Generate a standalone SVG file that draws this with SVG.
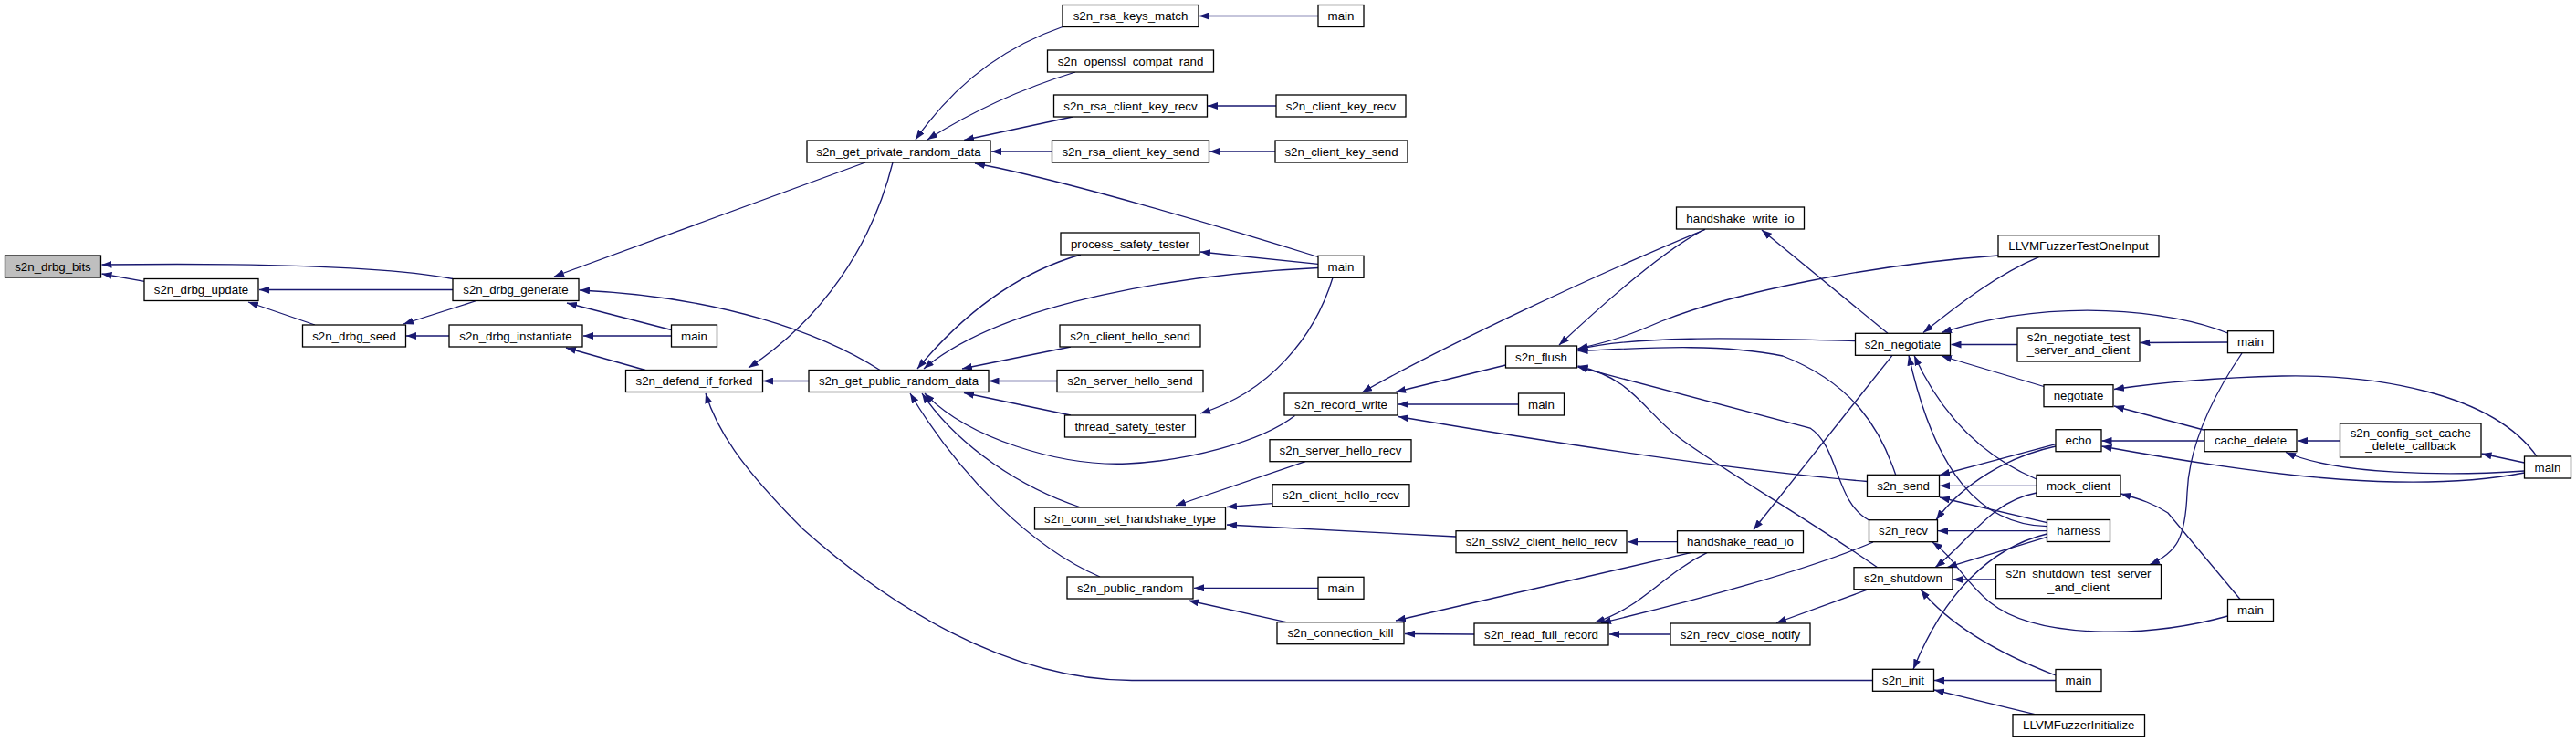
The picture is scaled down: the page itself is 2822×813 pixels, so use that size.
<svg xmlns="http://www.w3.org/2000/svg" width="2822" height="813" viewBox="0 0 2822 813">
<defs>
<marker id="ah" markerWidth="11" markerHeight="8" refX="11" refY="4" orient="auto" markerUnits="userSpaceOnUse"><path d="M0,0 L11,4 L0,8 z" fill="#191970"/></marker>
<style>
.node rect{fill:#ffffff;stroke:#000000;stroke-width:1.3}
.node.hl rect{fill:#bfbfbf}
.node text{font-family:"Liberation Sans",Arial,Helvetica,sans-serif;font-size:13.3px;fill:#000000;text-anchor:middle}
#edges path{fill:none;stroke:#191970;stroke-width:1.3;marker-end:url(#ah)}
</style>
</defs>
<rect x="0" y="0" width="2822" height="813" fill="#ffffff"/>
<g id="edges">
<path d="M158.4,308.3 L111.5,300"/>
<path d="M496,305.5 C420,291 280,288 111.5,290"/>
<path d="M496,317.5 L284,317.5"/>
<path d="M345,356 L272,331"/>
<path d="M522,329.5 L442,355"/>
<path d="M492,368 L445,368"/>
<path d="M707,405.5 L620,381"/>
<path d="M735.5,368 L639,368"/>
<path d="M735.5,361.5 L621,332"/>
<path d="M948,178 L607,303"/>
<path d="M964,405.5 C900,365 790,325 635,318"/>
<path d="M978,178 C955,270 900,350 820,403"/>
<path d="M886,417.5 L836,417.5"/>
<path d="M1164,29.5 C1090,55 1040,100 1003,153"/>
<path d="M1178,79 C1110,100 1060,125 1016,153"/>
<path d="M1175,128 L1056,153.5"/>
<path d="M1152.5,166 L1086,166"/>
<path d="M1444,281.5 C1330,246 1160,196 1068,179"/>
<path d="M1444,17.5 L1313.5,17.5"/>
<path d="M1398,116 L1323,116"/>
<path d="M1397,166 L1325,166"/>
<path d="M1184,279 C1110,300 1050,350 1005,404"/>
<path d="M1444,289.3 L1315,276"/>
<path d="M1444,293.5 C1300,300 1100,330 1012,404"/>
<path d="M1173,380 L1054,404"/>
<path d="M1158,417.5 L1083.5,417.5"/>
<path d="M1173,455 L1056,430.5"/>
<path d="M1460,304.3 C1440,370 1390,430 1315,453"/>
<path d="M1418.5,455.5 C1380,485 1300,505 1235,508 C1160,511 1060,480 1013,431"/>
<path d="M1184,556 C1120,535 1050,490 1010,431"/>
<path d="M1205,632 C1130,600 1050,520 997,431"/>
<path d="M2051.5,745.5 L1240,745.5 C1100,745 970,660 880,580 C810,510 785,470 773,431"/>
<path d="M1430,505.7 L1288,554"/>
<path d="M1394,551.7 L1344,555.5"/>
<path d="M1595,588 L1344,575"/>
<path d="M1444,644.3 L1308,644.3"/>
<path d="M1409,681.7 L1302,658"/>
<path d="M1615,695 L1539,694.5"/>
<path d="M1852,605.7 L1529,680"/>
<path d="M1870,605.7 C1820,630 1800,665 1747,682"/>
<path d="M2052,594 C1980,625 1850,660 1754,682.5"/>
<path d="M1830,695 L1763,695"/>
<path d="M2047,645.7 L1946,682.5"/>
<path d="M1837.5,593.7 L1783,593.7"/>
<path d="M2073,389.3 L1921,580.5"/>
<path d="M2068,365.3 L1930,252"/>
<path d="M1868,251 C1830,270 1770,320 1708,378"/>
<path d="M1868,251.5 C1750,300 1580,380 1492,430"/>
<path d="M1649.5,400 L1529,429.5"/>
<path d="M1663.5,443 L1532,443"/>
<path d="M2045.5,527.5 C1900,515 1700,485 1532,456.5"/>
<path d="M2032.5,373.5 C1950,372 1800,365 1728.5,383"/>
<path d="M2189,280 C2050,290 1900,320 1820,352 C1790,365 1770,373 1728.5,382"/>
<path d="M2233.5,281.7 C2190,300 2150,330 2107,364.5"/>
<path d="M2440.5,365 C2380,340 2250,325 2127,364.5"/>
<path d="M2210,377.5 L2137.5,377.5"/>
<path d="M2440.5,375 L2344.5,375.5"/>
<path d="M2239,423.5 L2127,390"/>
<path d="M2779,500 C2730,430 2600,410 2500,412 C2420,414 2360,420 2316,426.5"/>
<path d="M2414,471 L2316,445"/>
<path d="M2415,483 L2302.5,483"/>
<path d="M2563.5,483 L2517,483"/>
<path d="M2765.5,507 L2718.5,497"/>
<path d="M2765.5,516 C2680,522 2560,520 2504,495.5"/>
<path d="M2765.5,518 C2650,540 2500,525 2302.5,489"/>
<path d="M2252,486.7 L2125,520.5"/>
<path d="M2252,489 C2200,500 2150,530 2121,569.7"/>
<path d="M2231,532.3 L2125,532.3"/>
<path d="M2231,525 C2160,495 2120,440 2097,389.5"/>
<path d="M2242.5,576.7 C2170,575 2120,520 2091,389.5"/>
<path d="M2242.5,572.7 L2125,545"/>
<path d="M2242.5,581.7 L2123,581.7"/>
<path d="M2242.5,588.3 L2133,621.7"/>
<path d="M2231,540 C2180,550 2160,590 2120,621.7"/>
<path d="M2186.5,635 L2139.5,635"/>
<path d="M2440.5,675 C2350,700 2230,700 2180,660 C2150,635 2140,610 2117,594"/>
<path d="M2454,656.5 L2375,562 C2360,552 2345,547 2323.5,541"/>
<path d="M2456,387 C2420,440 2398,490 2396,540 C2394,590 2385,605 2355,618.7"/>
<path d="M2252,740 C2200,720 2140,690 2104,646"/>
<path d="M2252,745.5 L2119,745.5"/>
<path d="M2229,782.7 L2119,756"/>
<path d="M2242.5,585 C2180,600 2130,650 2096,733.3"/>
<path d="M2056.7,621.7 C1990,575 1880,510 1840,480 C1800,450 1790,415 1728.5,401"/>
<path d="M2076.7,520.3 C2060,470 2030,420 1953,390 C1880,375 1790,382 1728.5,384.5"/>
<path d="M2047.5,570 C2010,550 2015,490 1983,469 L1728.5,402"/>
</g>
<g id="n_bits" class="node hl"><rect x="5.5" y="280" width="105" height="24"/><text x="58" y="296.7">s2n_drbg_bits</text></g>
<g id="n_update" class="node"><rect x="158" y="305.5" width="125" height="24"/><text x="220.5" y="322.2">s2n_drbg_update</text></g>
<g id="n_generate" class="node"><rect x="496" y="305.5" width="138" height="24"/><text x="565" y="322.2">s2n_drbg_generate</text></g>
<g id="n_seed" class="node"><rect x="331.5" y="356" width="113" height="24"/><text x="388" y="372.7">s2n_drbg_seed</text></g>
<g id="n_inst" class="node"><rect x="492" y="356" width="146" height="24"/><text x="565" y="372.7">s2n_drbg_instantiate</text></g>
<g id="n_defend" class="node"><rect x="685.5" y="405.5" width="150" height="24"/><text x="760.5" y="422.2">s2n_defend_if_forked</text></g>
<g id="n_main1" class="node"><rect x="735.5" y="356" width="50" height="24"/><text x="760.5" y="372.7">main</text></g>
<g id="n_priv" class="node"><rect x="884" y="154" width="201" height="24"/><text x="984.5" y="170.7">s2n_get_private_random_data</text></g>
<g id="n_pub" class="node"><rect x="886" y="405.5" width="197" height="24"/><text x="984.5" y="422.2">s2n_get_public_random_data</text></g>
<g id="n_rsakm" class="node"><rect x="1164" y="5.5" width="149" height="24"/><text x="1238.5" y="22.2">s2n_rsa_keys_match</text></g>
<g id="n_compat" class="node"><rect x="1147.5" y="55" width="182" height="24"/><text x="1238.5" y="71.7">s2n_openssl_compat_rand</text></g>
<g id="n_rckr" class="node"><rect x="1154.5" y="104" width="168" height="24"/><text x="1238.5" y="120.7">s2n_rsa_client_key_recv</text></g>
<g id="n_rcks" class="node"><rect x="1152.5" y="154" width="172" height="24"/><text x="1238.5" y="170.7">s2n_rsa_client_key_send</text></g>
<g id="n_pst" class="node"><rect x="1162" y="255" width="152" height="24"/><text x="1238" y="271.7">process_safety_tester</text></g>
<g id="n_chs" class="node"><rect x="1161" y="356" width="154" height="24"/><text x="1238" y="372.7">s2n_client_hello_send</text></g>
<g id="n_shs" class="node"><rect x="1158" y="405.5" width="160" height="24"/><text x="1238" y="422.2">s2n_server_hello_send</text></g>
<g id="n_tst" class="node"><rect x="1166.5" y="455" width="143" height="24"/><text x="1238" y="471.7">thread_safety_tester</text></g>
<g id="n_cst" class="node"><rect x="1133.5" y="556" width="209" height="24"/><text x="1238" y="572.7">s2n_conn_set_handshake_type</text></g>
<g id="n_pr" class="node"><rect x="1169" y="632" width="138" height="24"/><text x="1238" y="648.7">s2n_public_random</text></g>
<g id="n_main2" class="node"><rect x="1444" y="5.5" width="50" height="24"/><text x="1469" y="22.2">main</text></g>
<g id="n_ckr" class="node"><rect x="1398" y="104" width="142" height="24"/><text x="1469" y="120.7">s2n_client_key_recv</text></g>
<g id="n_cks" class="node"><rect x="1397" y="154" width="145" height="24"/><text x="1469.5" y="170.7">s2n_client_key_send</text></g>
<g id="n_main3" class="node"><rect x="1444" y="280.3" width="50" height="24"/><text x="1469" y="297">main</text></g>
<g id="n_rw" class="node"><rect x="1407" y="431" width="124" height="24"/><text x="1469" y="447.7">s2n_record_write</text></g>
<g id="n_shr" class="node"><rect x="1391" y="481.7" width="155" height="24"/><text x="1468.5" y="498.4">s2n_server_hello_recv</text></g>
<g id="n_chr" class="node"><rect x="1394" y="530.7" width="150" height="24"/><text x="1469" y="547.4">s2n_client_hello_recv</text></g>
<g id="n_main4" class="node"><rect x="1444" y="632.3" width="50" height="24"/><text x="1469" y="649">main</text></g>
<g id="n_ck" class="node"><rect x="1399" y="681.7" width="139" height="24"/><text x="1468.5" y="698.4">s2n_connection_kill</text></g>
<g id="n_flush" class="node"><rect x="1649.5" y="379" width="78" height="24"/><text x="1688.5" y="395.7">s2n_flush</text></g>
<g id="n_main5" class="node"><rect x="1663.5" y="431" width="50" height="24"/><text x="1688.5" y="447.7">main</text></g>
<g id="n_sslv2" class="node"><rect x="1595" y="581.7" width="187" height="24"/><text x="1688.5" y="598.4">s2n_sslv2_client_hello_recv</text></g>
<g id="n_rfr" class="node"><rect x="1615" y="683" width="147" height="24"/><text x="1688.5" y="699.7">s2n_read_full_record</text></g>
<g id="n_hwio" class="node"><rect x="1836.5" y="227" width="140" height="24"/><text x="1906.5" y="243.7">handshake_write_io</text></g>
<g id="n_hrio" class="node"><rect x="1837.5" y="581.7" width="138" height="24"/><text x="1906.5" y="598.4">handshake_read_io</text></g>
<g id="n_rcn" class="node"><rect x="1830" y="683" width="153" height="24"/><text x="1906.5" y="699.7">s2n_recv_close_notify</text></g>
<g id="n_neg" class="node"><rect x="2032.5" y="365.3" width="104" height="24"/><text x="2084.5" y="382">s2n_negotiate</text></g>
<g id="n_send" class="node"><rect x="2045.5" y="520.3" width="79" height="24"/><text x="2085" y="537">s2n_send</text></g>
<g id="n_recv" class="node"><rect x="2047.5" y="569.7" width="75" height="24"/><text x="2085" y="586.4">s2n_recv</text></g>
<g id="n_shut" class="node"><rect x="2031" y="621.7" width="108" height="24"/><text x="2085" y="638.4">s2n_shutdown</text></g>
<g id="n_init" class="node"><rect x="2051.5" y="733.3" width="67" height="24"/><text x="2085" y="750">s2n_init</text></g>
<g id="n_llvm1" class="node"><rect x="2189" y="257.7" width="176" height="24"/><text x="2277" y="274.4">LLVMFuzzerTestOneInput</text></g>
<g id="n_negtest" class="node"><rect x="2210" y="359" width="134" height="37"/><text x="2277" y="373.5">s2n_negotiate_test</text><text x="2277" y="388">_server_and_client</text></g>
<g id="n_negf" class="node"><rect x="2239" y="421.7" width="76" height="24"/><text x="2277" y="438.4">negotiate</text></g>
<g id="n_echo" class="node"><rect x="2252" y="470.7" width="50" height="24"/><text x="2277" y="487.4">echo</text></g>
<g id="n_mock" class="node"><rect x="2231" y="520.3" width="92" height="24"/><text x="2277" y="537">mock_client</text></g>
<g id="n_harness" class="node"><rect x="2242.5" y="569.5" width="69" height="24"/><text x="2277" y="586.2">harness</text></g>
<g id="n_shuttest" class="node"><rect x="2186.5" y="618.7" width="181" height="37"/><text x="2277" y="633.2">s2n_shutdown_test_server</text><text x="2277" y="647.7">_and_client</text></g>
<g id="n_main9" class="node"><rect x="2252" y="733.5" width="50" height="24"/><text x="2277" y="750.2">main</text></g>
<g id="n_llvm2" class="node"><rect x="2205" y="782.7" width="144.5" height="24"/><text x="2277.3" y="799.4">LLVMFuzzerInitialize</text></g>
<g id="n_main6" class="node"><rect x="2440.5" y="362.7" width="50" height="24"/><text x="2465.5" y="379.4">main</text></g>
<g id="n_cd" class="node"><rect x="2415" y="470.7" width="101" height="24"/><text x="2465.5" y="487.4">cache_delete</text></g>
<g id="n_main8" class="node"><rect x="2440.5" y="656.5" width="50" height="24"/><text x="2465.5" y="673.2">main</text></g>
<g id="n_cfg" class="node"><rect x="2563.5" y="464" width="154.5" height="37"/><text x="2640.8" y="478.5">s2n_config_set_cache</text><text x="2640.8" y="493">_delete_callback</text></g>
<g id="n_main7" class="node"><rect x="2765.5" y="500" width="51" height="24"/><text x="2791" y="516.7">main</text></g>
</svg>
